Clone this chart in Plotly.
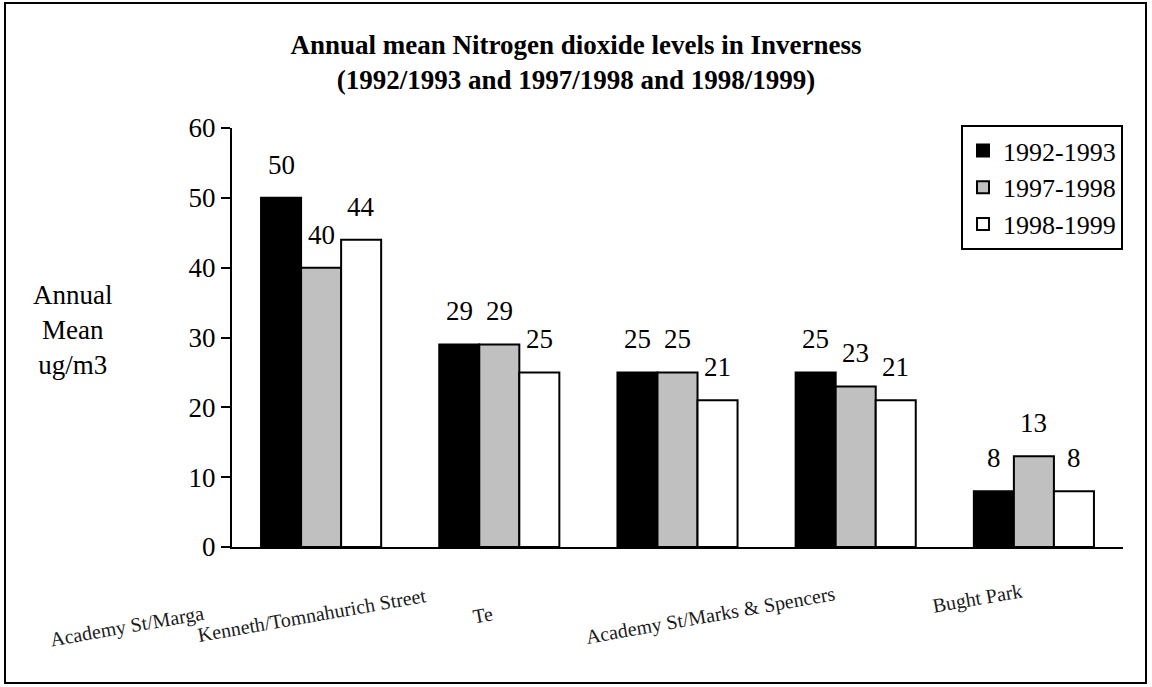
import plotly.graph_objects as go

# Monitoring sites and annual mean NO2 (ug/m3) per monitoring period
sites = [
    "Academy St/Margaret St",
    "Kenneth/Tomnahurich Street",
    "Telford Street",
    "Academy St/Marks & Spencers",
    "Bught Park",
]
site_labels = [
    "Academy St/Marga",
    "Kenneth/Tomnahurich Street",
    "Te",
    "Academy St/Marks & Spencers",
    "Bught Park",
]
periods = ["1992-1993", "1997-1998", "1998-1999"]
no2_1992_1993 = [50, 29, 25, 25, 8]
no2_1997_1998 = [40, 29, 25, 23, 13]
no2_1998_1999 = [44, 25, 21, 21, 8]
y_ticks = [0, 10, 20, 30, 40, 50, 60]

series = [no2_1992_1993, no2_1997_1998, no2_1998_1999]
fills = ["#000000", "#c0c0c0", "#ffffff"]

W, H = 1152, 687
L, R, T, B = 232, 29, 128, 140
plot_w = W - L - R
plot_h = H - T - B
bargap = 0.326
FONT = "Liberation Serif"

fig = go.Figure()
for name, vals, col in zip(periods, series, fills):
    fig.add_trace(go.Bar(
        name=name, x=sites, y=vals,
        marker=dict(color=col, line=dict(color="black", width=2)),
    ))

# value labels above each bar
bar_px = plot_w / len(sites) * (1 - bargap) / len(series)
annotations = []
for i, vals in enumerate(series):
    for s, v in zip(sites, vals):
        annotations.append(dict(
            x=s, y=v, xref="x", yref="y", text=str(v), showarrow=False,
            xshift=(i - 1) * bar_px, yshift=16, yanchor="bottom",
            font=dict(family=FONT, size=27, color="black"),
        ))

# slanted site names below the axis
label_shift = [-194, -187, -195, -145, -56]
label_y_px = [626, 615, 615, 615, 598]
for s, txt, dx, ypx in zip(sites, site_labels, label_shift, label_y_px):
    annotations.append(dict(
        x=s, xref="x", y=(H - B - ypx) / plot_h, yref="paper",
        text=txt, showarrow=False, textangle=-10, xshift=dx,
        xanchor="center", yanchor="middle",
        font=dict(family=FONT, size=20, color="#1a1a1a"),
    ))

# y-axis caption
annotations.append(dict(
    x=(72 - L) / plot_w, xref="paper", y=(H - B - 330) / plot_h, yref="paper",
    text="Annual<br>Mean<br>ug/m3", showarrow=False, align="center",
    xanchor="center", yanchor="middle",
    font=dict(family=FONT, size=27, color="black"),
))

def px_x(p):
    return (p - L) / plot_w

def px_y(p):
    return (H - B - p) / plot_h

fig.update_layout(
    width=W, height=H,
    margin=dict(l=L, r=R, t=T, b=B),
    paper_bgcolor="white", plot_bgcolor="white",
    barmode="group", bargap=bargap, bargroupgap=0,
    font=dict(family=FONT, size=27, color="black"),
    title=dict(
        text="<b>Annual mean Nitrogen dioxide levels in Inverness<br>(1992/1993 and 1997/1998 and 1998/1999)</b>",
        x=0.5, xref="container", xanchor="center",
        y=1 - 54 / H, yref="container", yanchor="middle",
        font=dict(family=FONT, size=27, color="black"),
    ),
    xaxis=dict(
        range=[-0.5, len(sites) - 0.5], autorange=False,
        showticklabels=False, ticks="", showline=True, linecolor="black",
        linewidth=2, showgrid=False, zeroline=False,
    ),
    yaxis=dict(
        range=[0, 60], autorange=False, tickvals=y_ticks, ticks="outside",
        ticklen=9, tickwidth=2, tickcolor="black", showline=True,
        linecolor="black", linewidth=2, showgrid=False, zeroline=False,
        tickfont=dict(family=FONT, size=27, color="black"),
    ),
    legend=dict(
        x=1, y=px_y(125), xanchor="right", yanchor="top",
        bgcolor="white", bordercolor="black", borderwidth=2,
        font=dict(family=FONT, size=26, color="black"),
        tracegroupgap=4,
    ),
    annotations=annotations,
    shapes=[dict(
        type="rect", xref="paper", yref="paper",
        x0=px_x(5), x1=px_x(1146), y0=px_y(683), y1=px_y(3),
        line=dict(color="black", width=2), fillcolor="rgba(0,0,0,0)",
        layer="below",
    )],
)

fig.write_html("out.html")
